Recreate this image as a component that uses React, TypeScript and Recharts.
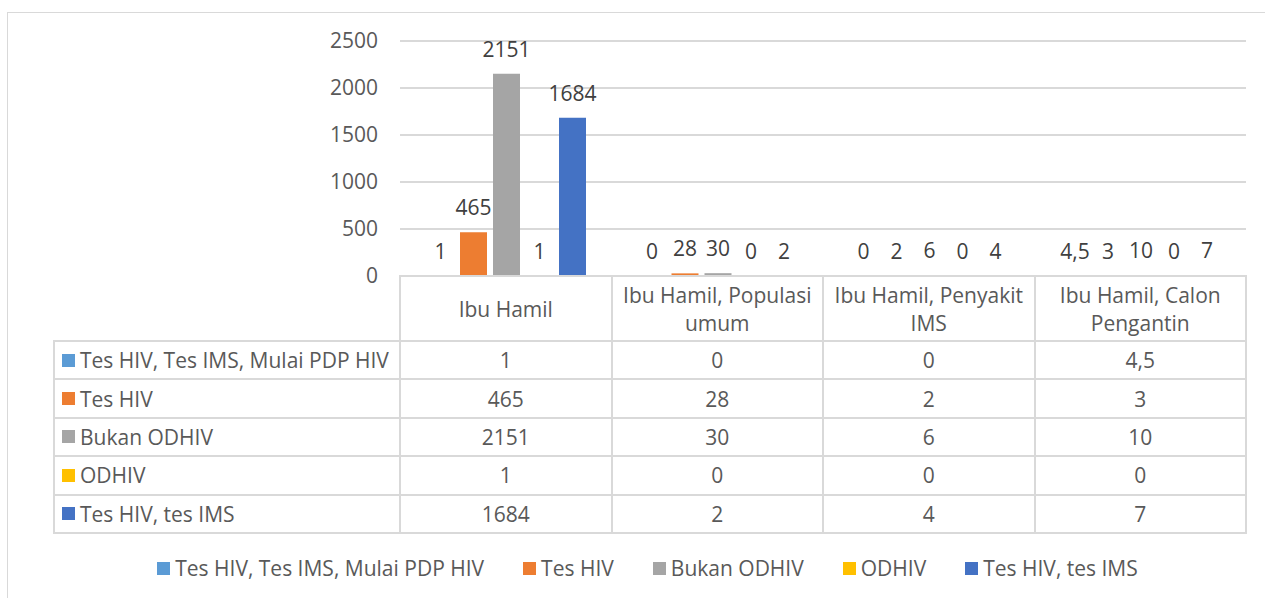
import React from 'react';
import { BarChart, Bar, XAxis, YAxis, CartesianGrid, LabelList } from 'recharts';

const categories = [
  'Ibu Hamil',
  'Ibu Hamil, Populasi umum',
  'Ibu Hamil, Penyakit IMS',
  'Ibu Hamil, Calon Pengantin',
];

const seriesNames = [
  'Tes HIV, Tes IMS, Mulai PDP HIV',
  'Tes HIV',
  'Bukan ODHIV',
  'ODHIV',
  'Tes HIV, tes IMS',
];

const seriesColors = ['#5B9BD5', '#ED7D31', '#A5A5A5', '#FFC000', '#4472C4'];

const tesHivImsPdp = [1, 0, 0, 4.5];
const tesHiv = [465, 28, 2, 3];
const bukanOdhiv = [2151, 30, 6, 10];
const odhiv = [1, 0, 0, 0];
const tesHivIms = [1684, 2, 4, 7];

const seriesValues = [tesHivImsPdp, tesHiv, bukanOdhiv, odhiv, tesHivIms];

const yTicks = [0, 500, 1000, 1500, 2000, 2500];

const data = categories.map((name, i) => {
  const row: any = { name };
  seriesValues.forEach((vals, s) => {
    row['s' + s] = vals[i];
  });
  return row;
});

const FONT = '"Open Sans", "Noto Sans", sans-serif';
const FS = 21;
const TEXT = '#595959';
const LINE = '#d9d9d9';

// plot area geometry (must match the table below)
const PLOT_LEFT = 400;
const PLOT_RIGHT = 1246;
const PLOT_TOP = 41;
const PLOT_BOTTOM = 276;
const COL_W = (PLOT_RIGHT - PLOT_LEFT) / categories.length;
const LABEL_COL_LEFT = 54;
const HEADER_H = 65;
const ROW_H = 38.4;

const fmt = (v: any) => String(v).replace('.', ',');

const marker = (color: string) => (
  <span style={{ width: 13, height: 13, background: color, marginRight: 5, display: 'inline-block', flex: 'none' }} />
);

export default function App() {
  const cell: React.CSSProperties = {
    position: 'absolute',
    border: `2px solid ${LINE}`,
    boxSizing: 'border-box',
    display: 'flex',
    alignItems: 'center',
    justifyContent: 'center',
    textAlign: 'center',
    fontFamily: FONT,
    fontSize: FS,
    color: TEXT,
    lineHeight: '28px',
    whiteSpace: 'normal',
  };

  return (
    <div style={{ position: 'absolute', left: 0, top: 0, width: 1265, height: 598, overflow: 'hidden', background: '#fff' }}>
      <div style={{ position: 'absolute', left: 7, top: 12, width: 1270, height: 600, border: `1px solid ${LINE}`, boxSizing: 'border-box' }} />
      <div style={{ position: 'absolute', left: 0, top: 0 }}>
        <BarChart
          width={1265}
          height={300}
          data={data}
          margin={{ top: PLOT_TOP, right: 1265 - PLOT_RIGHT, bottom: 300 - PLOT_BOTTOM, left: PLOT_LEFT - 60 }}
          barCategoryGap={27}
          barGap={6}
        >
          <CartesianGrid vertical={false} stroke={LINE} strokeWidth={2} />
          <XAxis dataKey="name" hide />
          <YAxis
            width={60}
            domain={[0, 2500]}
            ticks={yTicks}
            axisLine={false}
            tickLine={false}
            tickMargin={16}
            tick={{ fill: TEXT, fontSize: FS, fontFamily: FONT }}
          />
          {seriesNames.map((n, i) => (
            <Bar key={n} dataKey={'s' + i} name={n} fill={seriesColors[i]} minPointSize={0.001} isAnimationActive={false}>
              <LabelList
                dataKey={'s' + i}
                position="top"
                offset={17}
                formatter={fmt}
                style={{ fill: '#404040', fontSize: FS, fontFamily: FONT }}
              />
            </Bar>
          ))}
        </BarChart>
      </div>

      {/* data table */}
      {categories.map((c, ci) => (
        <div
          key={c}
          style={{
            ...cell,
            left: PLOT_LEFT + ci * COL_W - 1,
            top: PLOT_BOTTOM - 1,
            width: COL_W + 2,
            height: HEADER_H + 2,
            padding: '0 4px',
          }}
        >
          {c}
        </div>
      ))}
      {seriesNames.map((n, si) => (
        <React.Fragment key={n}>
          <div
            style={{
              ...cell,
              left: LABEL_COL_LEFT - 1,
              top: PLOT_BOTTOM + HEADER_H + si * ROW_H - 1,
              width: PLOT_LEFT - LABEL_COL_LEFT + 2,
              height: ROW_H + 2,
              justifyContent: 'flex-start',
              paddingLeft: 7,
              whiteSpace: 'nowrap',
            }}
          >
            {marker(seriesColors[si])}
            {n}
          </div>
          {seriesValues[si].map((v, ci) => (
            <div
              key={ci}
              style={{
                ...cell,
                left: PLOT_LEFT + ci * COL_W - 1,
                top: PLOT_BOTTOM + HEADER_H + si * ROW_H - 1,
                width: COL_W + 2,
                height: ROW_H + 2,
              }}
            >
              {fmt(v)}
            </div>
          ))}
        </React.Fragment>
      ))}

      {/* legend */}
      <div
        style={{
          position: 'absolute',
          left: 15,
          top: 554,
          width: 1265,
          display: 'flex',
          justifyContent: 'center',
          fontFamily: FONT,
          fontSize: FS,
          color: TEXT,
          lineHeight: '28px',
        }}
      >
        {seriesNames.map((n, i) => (
          <div key={n} style={{ display: 'flex', alignItems: 'center', marginRight: i < seriesNames.length - 1 ? 39 : 0 }}>
            {marker(seriesColors[i])}
            <span>{n}</span>
          </div>
        ))}
      </div>
    </div>
  );
}
